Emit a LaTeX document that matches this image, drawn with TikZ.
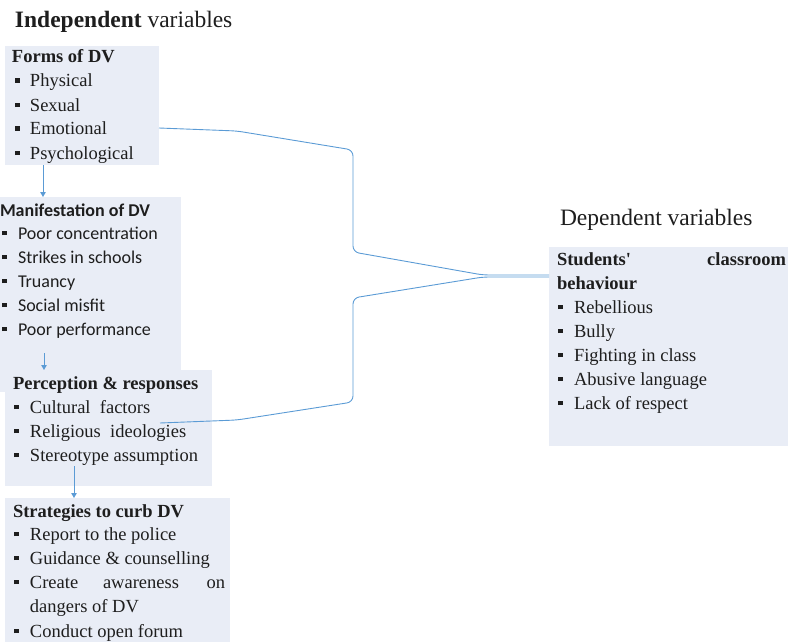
\documentclass[tikz,border=0pt]{standalone}
\usepackage{fontspec}
\setmainfont{Liberation Serif}
\newfontfamily\calibri{Carlito}
\usetikzlibrary{arrows.meta,calc}
\definecolor{boxfill}{RGB}{233,237,246}
\definecolor{conn}{RGB}{91,155,213}
\definecolor{txt}{RGB}{30,30,30}
\newcommand{\sqb}[1]{\makebox[#1][l]{\rule[4pt]{4.5pt}{4.5pt}}}
\begin{document}
\begin{tikzpicture}[x=1pt,y=-1pt,
  box/.style={fill=boxfill,draw=none,inner sep=0pt,outer sep=0pt,anchor=north west},
  tx/.style={inner sep=0pt,outer sep=0pt,anchor=base west,text=txt,font=\fontsize{18.5}{22}\selectfont},
  ttl/.style={tx,font=\fontsize{18.5}{22}\selectfont\bfseries},
  cal/.style={tx,font=\fontsize{18}{22}\selectfont\calibri},
  calb/.style={tx,font=\fontsize{18}{22}\selectfont\calibri\bfseries},
  head/.style={tx,font=\fontsize{23.5}{27}\selectfont},
  link/.style={draw=conn,line width=0.9pt},
  arr/.style={link,-{Triangle[width=5.5pt,length=5pt]}}
]
\useasboundingbox (0,0) rectangle (788,642);

% boxes
\node[box,minimum width=154pt,minimum height=119pt] (forms) at (5,46) {};
\node[box,minimum width=181pt,minimum height=195pt] (manif) at (0,197) {};
\node[box,minimum width=207pt,minimum height=116pt] (percep) at (5,370) {};
\node[box,minimum width=225pt,minimum height=150pt] (strat) at (5,498) {};
\node[box,minimum width=245pt,minimum height=199pt] (stud) at (549,247) {};

% headings
\node[head] (indep) at (15,28) {\textbf{Independent} variables};
\node[head] (dep) at (560,225) {Dependent variables};

% Forms of DV
\node[ttl] (f0) at (12,63) {Forms of DV};
\node[tx] (f1) at (15,87) {\sqb{15pt}Physical};
\node[tx] (f2) at (15,111) {\sqb{15pt}Sexual};
\node[tx] (f3) at (15,135) {\sqb{15pt}Emotional};
\node[tx] (f4) at (15,159) {\sqb{15pt}Psychological};

% Manifestation
\node[calb] (m0) at (0,216) {Manifestation of DV};
\node[cal] (m1) at (2,239) {\sqb{16pt}Poor concentration};
\node[cal] (m2) at (2,263) {\sqb{16pt}Strikes in schools};
\node[cal] (m3) at (2,287) {\sqb{16pt}Truancy};
\node[cal] (m4) at (2,311) {\sqb{16pt}Social misfit};
\node[cal] (m5) at (2,335) {\sqb{16pt}Poor performance};

% Perception
\node[ttl] (p0) at (13,389) {Perception \& responses};
\node[tx] (p1) at (14,413) {\sqb{16pt}Cultural\ \ factors};
\node[tx] (p2) at (14,437) {\sqb{16pt}Religious\ \ ideologies};
\node[tx] (p3) at (14,461) {\sqb{16pt}Stereotype assumption};

% Strategies
\node[ttl] (s0) at (13,517) {Strategies to curb DV};
\node[tx] (s1) at (14,540) {\sqb{16pt}Report to the police};
\node[tx] (s2) at (14,564) {\sqb{16pt}Guidance \& counselling};
\node[tx] (s3) at (14,588) {\sqb{16pt}Create};
\node[tx] (s3b) at (103,588) {awareness};
\node[tx,anchor=base east] (s3c) at (225,588) {on};
\node[tx] (s4) at (30,612) {dangers of DV};
\node[tx] (s5) at (14,637) {\sqb{16pt}Conduct open forum};

% Students
\node[ttl] (d0) at (557,265) {Students\textquotesingle};
\node[ttl,anchor=base east] (d0b) at (786,265) {classroom};
\node[ttl] (d0c) at (557,289) {behaviour};
\node[tx] (d1) at (558,313) {\sqb{16pt}Rebellious};
\node[tx] (d2) at (558,337) {\sqb{16pt}Bully};
\node[tx] (d3) at (558,361) {\sqb{16pt}Fighting\ in class};
\node[tx] (d4) at (558,385) {\sqb{16pt}Abusive language};
\node[tx] (d5) at (558,409) {\sqb{16pt}Lack of respect};

% vertical arrows
\coordinate (ax1) at (43,0);
\draw[arr] (forms.south -| ax1) -- (manif.north -| ax1);
\coordinate (ax2) at (44,353);
\draw[arr] (ax2) -- (ax2 |- percep.north);
\coordinate (ax3) at (74,466);
\draw[arr] (ax3) -- (ax3 |- strat.north);

% connectors to dependent variables
\coordinate (a0) at (0,128);
\coordinate (a1) at (237,131);
\coordinate (a2) at (353,150);
\coordinate (a3) at (353,252);
\coordinate (a4) at (483,275);
\draw[link,rounded corners=6pt] (forms.east |- a0) -- (a1) -- (a2) -- (a3) -- (a4) -- (stud.west |- a4);
\coordinate (b0) at (160,423);
\coordinate (b1) at (237,420);
\coordinate (b2) at (353,402);
\coordinate (b3) at (353,298);
\coordinate (b4) at (483,277);
\draw[link,rounded corners=6pt] (b0) -- (b1) -- (b2) -- (b3) -- (b4) -- (stud.west |- b4);
\end{tikzpicture}
\end{document}
